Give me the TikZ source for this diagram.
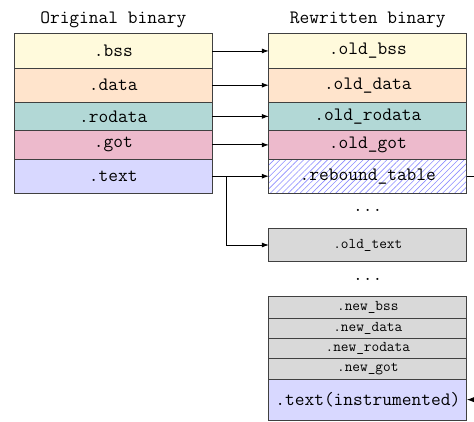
\documentclass[tikz,border=0pt]{standalone}
\usetikzlibrary{arrows.meta, positioning, patterns.meta}
\definecolor{bsscol}{HTML}{FFFADC}
\definecolor{datacol}{HTML}{FFE4CC}
\definecolor{rodatacol}{HTML}{B2D8D6}
\definecolor{gotcol}{HTML}{EDBACC}
\definecolor{textcol}{HTML}{D8D8FF}
\definecolor{newcol}{HTML}{D9D9D9}
\tikzset{
  seg/.style = {draw=black!75, line width=0.8pt, minimum width=198pt,
    inner sep=0pt, outer sep=0pt, text centered,
    font=\fontsize{18.9}{21}\selectfont\ttfamily},
  smallseg/.style = {seg, fill=newcol, font=\fontsize{14.9}{17}\selectfont\ttfamily},
  title/.style = {font=\fontsize{18.9}{21}\selectfont\ttfamily},
  link/.style = {-{Latex[length=7pt,width=5pt]}, line width=0.8pt}
}

\begin{document}
\begin{tikzpicture}[x=1pt, y=-1pt]
\useasboundingbox (0,0) rectangle (474,422);
% original binary
\node [title] (origtitle) at (113.3,20) {Original binary};
\node [seg, fill=bsscol, minimum height=34.5pt, anchor=north] (bss) at (113.3,33.7) {.bss};
\node [seg, fill=datacol, minimum height=34pt, below=0pt of bss] (data) {.data};
\node [seg, fill=rodatacol, minimum height=28.4pt, below=0pt of data] (rodata) {.rodata};
\node [seg, fill=gotcol, minimum height=28.6pt, below=0pt of rodata] (got) {.got};
\node [seg, fill=textcol, minimum height=34pt, below=0pt of got] (text) {.text};

% rewritten binary
\node [title] (rewrtitle) at (367.8,20) {Rewritten binary};
\node [seg, fill=bsscol, minimum height=34.5pt, anchor=north] (oldbss) at (367.8,33.7) {.old\_bss};
\node [seg, fill=datacol, minimum height=34pt, below=0pt of oldbss] (olddata) {.old\_data};
\node [seg, fill=rodatacol, minimum height=28.4pt, below=0pt of olddata] (oldrodata) {.old\_rodata};
\node [seg, fill=gotcol, minimum height=28.6pt, below=0pt of oldrodata] (oldgot) {.old\_got};
\node [seg, pattern={Lines[angle=45,distance=4.2pt,line width=0.6pt]}, pattern color=blue!45,
  minimum height=34pt, below=0pt of oldgot] (rebound) {.rebound\_table};
\node [title] (dotsa) at (367.8,210) {...};
\node [smallseg, minimum height=33.4pt] (oldtext) at (367.8,245) {.old\_text};
\node [title] (dotsb) at (367.8,279) {...};
\node [smallseg, minimum height=21.6pt, anchor=north] (newbss) at (367.8,296.7) {.new\_bss};
\node [smallseg, minimum height=20pt, below=0pt of newbss] (newdata) {.new\_data};
\node [smallseg, minimum height=20pt, below=0pt of newdata] (newrodata) {.new\_rodata};
\node [smallseg, minimum height=21pt, below=0pt of newrodata] (newgot) {.new\_got};
\node [seg, fill=textcol, minimum height=40.7pt, below=0pt of newgot,
  font=\fontsize{18.9}{22}\selectfont\ttfamily] (instr) {.text(instrumented)};

% links
\draw [link] (bss.east) -- (oldbss.west);
\draw [link] (data.east) -- (olddata.west);
\draw [link] (rodata.east) -- (oldrodata.west);
\draw [link] (got.east) -- (oldgot.west);
\draw [link] (text.east) -- (rebound.west);
\draw [link] (text.east) -- ++(14,0) |- (oldtext.west);
\draw [link] (rebound.east) -- ++(20,0) |- (instr.east);
\end{tikzpicture}
\end{document}
